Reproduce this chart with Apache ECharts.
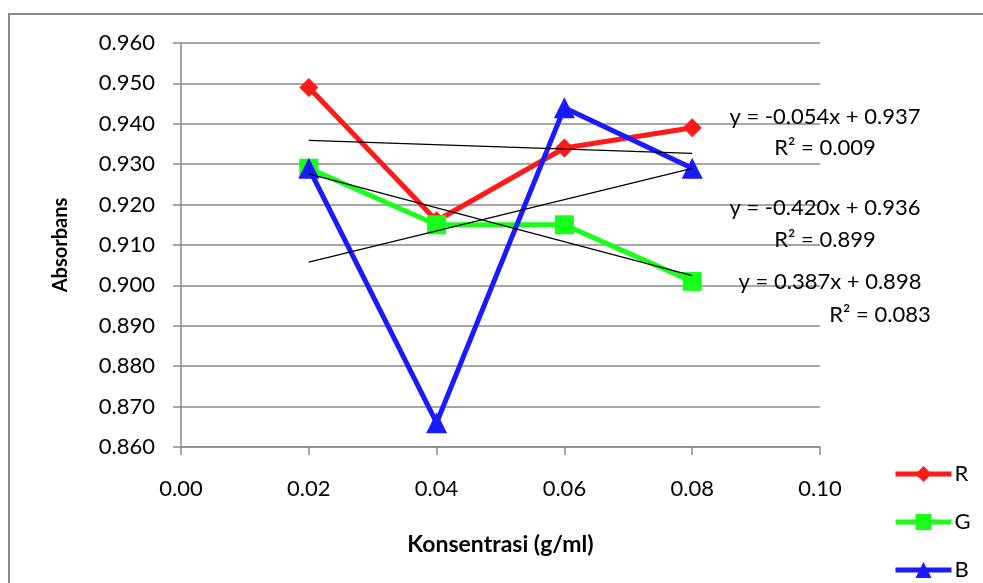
<!DOCTYPE html>
<html>
<head>
<meta charset="utf-8">
<style>
  html, body { margin: 0; padding: 0; background: #ffffff; }
  #chart { width: 983px; height: 583px; }
</style>
<script src="https://cdn.jsdelivr.net/npm/echarts@6/dist/echarts.min.js"></script>
</head>
<body>
<div id="chart"></div>
<script>
// Concentration (g/ml) for each measurement
const konsentrasi = [0.02, 0.04, 0.06, 0.08];

// Absorbance per colour channel
const seriesNames = ['R', 'G', 'B'];
const absR = [0.949, 0.916, 0.934, 0.939];
const absG = [0.929, 0.915, 0.915, 0.901];
const absB = [0.929, 0.866, 0.944, 0.929];

// Linear trendlines: y = slope * x + intercept
const trendSlope = [-0.054, -0.420, 0.387];
const trendIntercept = [0.937, 0.936, 0.898];
const trendR2 = ['0.009', '0.899', '0.083'];

// Axis ticks
const yTicks = [0.86, 0.87, 0.88, 0.89, 0.90, 0.91, 0.92, 0.93, 0.94, 0.95, 0.96];
const xTicks = [0.00, 0.02, 0.04, 0.06, 0.08, 0.10];

const colors = ['#ff1a1a', '#1aff1a', '#1a1aff'];
const symbols = ['diamond', 'rect', 'triangle'];
const symbolSizes = [19, 19, 21];
const FONT = 'Lato, "Open Sans", sans-serif';
const GRID_COLOR = '#8a8a8a';

const values = [absR, absG, absB];

const dataSeries = seriesNames.map((name, i) => ({
  name: name,
  type: 'line',
  data: konsentrasi.map((x, k) => [x, values[i][k]]),
  symbol: symbols[i],
  symbolSize: symbolSizes[i],
  showAllSymbol: true,
  lineStyle: { color: colors[i], width: 5 },
  itemStyle: { color: colors[i] },
  z: 3 + i,
  animation: false
}));

const xFirst = konsentrasi[0];
const xLast = konsentrasi[konsentrasi.length - 1];
const trendSeries = trendSlope.map((m, i) => ({
  name: 'trend-' + seriesNames[i],
  type: 'line',
  data: [[xFirst, m * xFirst + trendIntercept[i]], [xLast, m * xLast + trendIntercept[i]]],
  symbol: 'none',
  lineStyle: { color: '#000000', width: 1.3 },
  z: 10,
  silent: true,
  animation: false
}));

function fmtEq(m, b) {
  const sign = b >= 0 ? '+' : '-';
  return 'y = ' + m.toFixed(3) + 'x ' + sign + ' ' + Math.abs(b).toFixed(3);
}

// Equation labels placed at the right of the plot
const eqPos = [[825, 117], [825, 208], [830, 282]];
const r2Pos = [[825, 148], [825, 240], [880, 315]];
const eqGraphics = [];
trendSlope.forEach((m, i) => {
  eqGraphics.push({
    type: 'text', x: eqPos[i][0], y: eqPos[i][1], z: 20,
    style: { text: fmtEq(m, trendIntercept[i]), font: '22px ' + FONT, fill: '#000', align: 'center', verticalAlign: 'middle' }
  });
  eqGraphics.push({
    type: 'text', x: r2Pos[i][0], y: r2Pos[i][1], z: 20,
    style: { text: 'R² = ' + trendR2[i], font: '22px ' + FONT, fill: '#000', align: 'center', verticalAlign: 'middle' }
  });
});

const chart = echarts.init(document.getElementById('chart'), null, { renderer: 'canvas' });
chart.setOption({
  backgroundColor: '#ffffff',
  animation: false,
  grid: { left: 181, right: 163, top: 43, bottom: 136, containLabel: false },
  xAxis: {
    type: 'value',
    min: xTicks[0],
    max: xTicks[xTicks.length - 1],
    interval: 0.02,
    name: 'Konsentrasi (g/ml)',
    nameLocation: 'middle',
    nameGap: 86,
    nameTextStyle: { fontFamily: FONT, fontSize: 23, fontWeight: 'bold', color: '#000' },
    axisLine: { show: true, onZero: false, lineStyle: { color: GRID_COLOR, width: 1.5 } },
    axisTick: { show: true, length: 8, lineStyle: { color: GRID_COLOR, width: 1.5 } },
    axisLabel: { margin: 31, fontFamily: FONT, fontSize: 22, color: '#000', formatter: v => v.toFixed(2) },
    splitLine: { show: false }
  },
  yAxis: {
    type: 'value',
    min: yTicks[0],
    max: yTicks[yTicks.length - 1],
    interval: 0.01,
    name: 'Absorbans',
    nameLocation: 'middle',
    nameGap: 110,
    nameTextStyle: { fontFamily: FONT, fontSize: 20, fontWeight: 'bold', color: '#000' },
    axisLine: { show: true, lineStyle: { color: GRID_COLOR, width: 1.5 } },
    axisTick: { show: true, length: 8, lineStyle: { color: GRID_COLOR, width: 1.5 } },
    axisLabel: { margin: 26, fontFamily: FONT, fontSize: 22, color: '#000', formatter: v => v.toFixed(3) },
    splitLine: { show: true, lineStyle: { color: GRID_COLOR, width: 1.5 } }
  },
  legend: {
    data: seriesNames,
    orient: 'vertical',
    left: 893,
    top: 463,
    height: 120,
    padding: 0,
    itemWidth: 56,
    itemHeight: 20,
    itemGap: 26,
    lineStyle: { width: 5 },
    textStyle: { fontFamily: FONT, fontSize: 22, lineHeight: 20, color: '#000', padding: [0, 0, 0, -2] }
  },
  graphic: [
    {
      type: 'rect', z: -1, silent: true,
      shape: { x: 9, y: 14, width: 1000, height: 620 },
      style: { fill: 'none', stroke: '#8a8a8a', lineWidth: 2 }
    }
  ].concat(eqGraphics),
  series: dataSeries.concat(trendSeries)
});
</script>
</body>
</html>
